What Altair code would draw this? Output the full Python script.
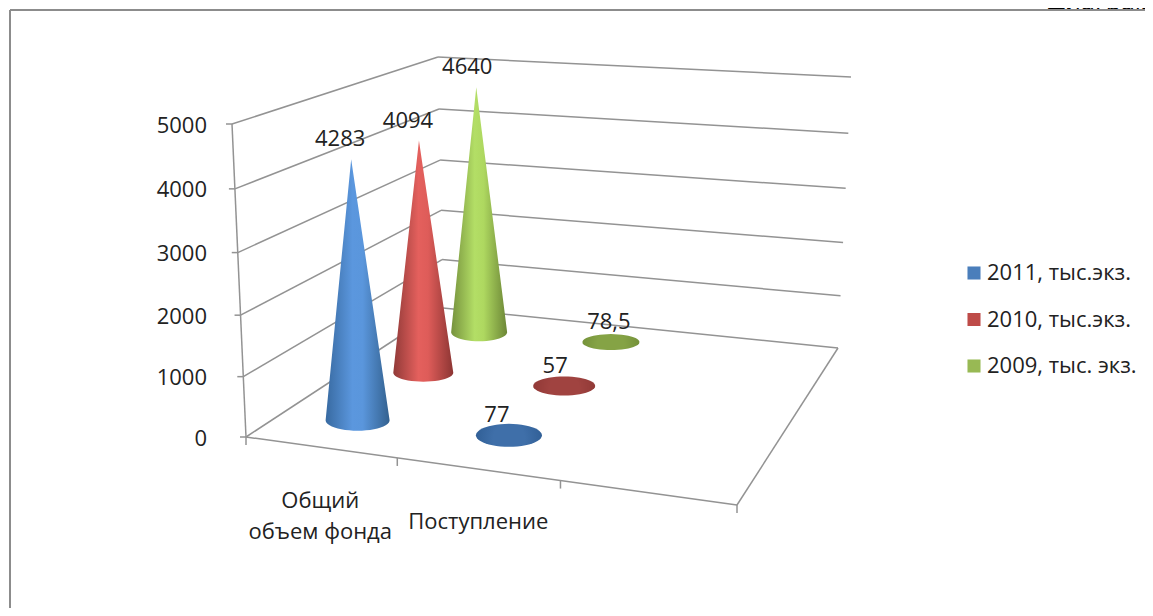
import numpy as np
import pandas as pd
import altair as alt

categories = ["Общий объем фонда", "Поступление"]
series = ["2011, тыс.экз.", "2010, тыс.экз.", "2009, тыс. экз."]
values_2011 = [4283, 77]
values_2010 = [4094, 57]
values_2009 = [4640, 78.5]
value_labels_2011 = ["4283", "77"]
value_labels_2010 = ["4094", "57"]
value_labels_2009 = ["4640", "78,5"]
y_ticks = [0, 1000, 2000, 3000, 4000, 5000]
series_values = [values_2011, values_2010, values_2009]
series_labels = [value_labels_2011, value_labels_2010, value_labels_2009]
legend_colors = ["#4a7ebb", "#be4b48", "#98b954"]

FONT = "Open Sans"
W, H = 1137, 600
GREY = "#939393"

# projection of the 3-D box onto the page
FL, FR, BR, BL = (246, 437), (737, 505), (838, 348), (443, 308)
LIFT = {"FL": (-14, -313), "BL": (-5, -251), "BR": (13, -271), "FR": (18, -338)}


def homography(pts):
    src = [(0, 0), (1, 0), (1, 1), (0, 1)]
    A, b = [], []
    for (u, v), (x, y) in zip(src, pts):
        A.append([u, v, 1, 0, 0, 0, -u * x, -v * x])
        A.append([0, 0, 0, u, v, 1, -u * y, -v * y])
        b += [x, y]
    return np.append(np.linalg.solve(np.array(A, float), np.array(b, float)), 1).reshape(3, 3)


HM = homography([FL, FR, BR, BL])


def project(u, v, h=0.0):
    p = HM @ np.array([u, v, 1.0])
    x, y = p[0] / p[2], p[1] / p[2]
    t = h / 5000
    t = t - 0.045 * t * (1 - t)  # perspective foreshortening of the height
    lx = (1 - u) * (1 - v) * LIFT["FL"][0] + u * (1 - v) * LIFT["FR"][0] + u * v * LIFT["BR"][0] + (1 - u) * v * LIFT["BL"][0]
    ly = (1 - u) * (1 - v) * LIFT["FL"][1] + u * (1 - v) * LIFT["FR"][1] + u * v * LIFT["BR"][1] + (1 - u) * v * LIFT["BL"][1]
    return x + t * lx, y + t * ly


X = alt.X("x:Q", scale=alt.Scale(domain=[8, 8 + W], nice=False, zero=False), axis=None)
Y = alt.Y("y:Q", scale=alt.Scale(domain=[8 + H, 8], nice=False, zero=False), axis=None)
X2 = alt.X2("x2:Q")
Y2 = alt.Y2("y2:Q")

# ---- frame, walls, ticks
segments = []


def seg(a, b, kind="grid"):
    segments.append({"id": len(segments), "x": a[0], "y": a[1], "kind": kind})
    segments.append({"id": len(segments) - 1, "x": b[0], "y": b[1], "kind": kind})


for t in y_ticks:
    seg(project(0, 0, t), project(0, 1, t))
    seg(project(0, 1, t), project(1, 1, t))
seg(project(0, 0, 0), project(1, 0, 0))
seg(project(1, 0, 0), project(1, 1, 0))
seg(project(0, 0, 0), project(0, 0, 5000))
for t in y_ticks:
    px, py = project(0, 0, t)
    seg((px - 6, py), (px, py))
for i in range(4):
    px, py = project(i / 3, 0, 0)
    seg((px, py), (px, py + 8))
seg((10, 10), (1153, 10), "frame")
seg((10, 10), (10, 616), "frame")
seg_df = pd.DataFrame(segments)

lines = alt.Chart(seg_df[seg_df.kind == "grid"]).mark_line(color=GREY, strokeWidth=1.5).encode(x=X, y=Y, detail="id:N")
frame = alt.Chart(seg_df[seg_df.kind == "frame"]).mark_line(color="#8c8c8c", strokeWidth=2).encode(x=X, y=Y, detail="id:N")

# ---- cones and disks
CONE_A, CONE_B = [32, 30, 28], [10.5, 9, 9]
DISK_A, DISK_B = [33, 31, 28.5], [11.5, 9.5, 8]
LABEL_DX = [[-11, -12], [-11, -9], [-9, -2]]
CONE_STOPS = [
    ["#386aa1", "#5b97de", "#5a96dc", "#33618f"],
    ["#913a38", "#e4605d", "#de5c59", "#8c3533"],
    ["#76923d", "#b3de66", "#aed860", "#6c8636"],
]
DISK_STOPS = [("#3f6fa9", "#2c5a90"), ("#a04340", "#8c3634"), ("#85a345", "#6f8c36")]
layers_marks = []
labels = []
for j in reversed(range(3)):
    for i in range(2):
        u, v = (i + 0.5) / 3, (j + 0.5) / 3
        val = series_values[j][i]
        cx, cy = project(u, v, 0)
        ax, ay = project(u, v, val)
        labels.append({"x": ax + LABEL_DX[j][i], "y": ay, "t": series_labels[j][i]})
        if val > 1000:
            a, b = CONE_A[j], CONE_B[j]
            ys = np.concatenate([np.linspace(ay, cy, 12), cy + b * np.sin(np.linspace(0.1, np.pi / 2, 12))])
            rows = []
            for yy in ys:
                if yy <= cy:
                    f = (yy - ay) / (cy - ay)
                    rows.append({"y": yy, "x": ax + f * (cx - ax - a), "x2": ax + f * (cx - ax + a)})
                else:
                    w = a * np.sqrt(max(0, 1 - ((yy - cy) / b) ** 2))
                    rows.append({"y": yy, "x": cx - w, "x2": cx + w})
            s = CONE_STOPS[j]
            fill = alt.LinearGradient(
                gradient="linear", x1=0, x2=1, y1=0, y2=0,
                stops=[alt.GradientStop(color=s[0], offset=0), alt.GradientStop(color=s[1], offset=0.42),
                       alt.GradientStop(color=s[2], offset=0.58), alt.GradientStop(color=s[3], offset=1)],
            )
        else:
            a, b = DISK_A[j], DISK_B[j]
            th = np.linspace(-np.pi / 2, np.pi / 2, 25)
            rows = [{"y": ay + b * np.sin(t), "x": ax - a * np.cos(t), "x2": ax + a * np.cos(t)} for t in th]
            s = DISK_STOPS[j]
            fill = alt.RadialGradient(
                gradient="radial", x1=0.5, y1=0.55, x2=0.5, y2=0.55, r1=0, r2=0.6,
                stops=[alt.GradientStop(color=s[0], offset=0.4), alt.GradientStop(color=s[1], offset=1)],
            )
        layers_marks.append(
            alt.Chart(pd.DataFrame(rows)).mark_area(orient="horizontal", color=fill).encode(x=X, x2=X2, y=Y)
        )

# ---- texts
TS = 22
label_chart = alt.Chart(pd.DataFrame(labels)).mark_text(
    font=FONT, fontSize=TS, color="#222222", dy=-20
).encode(x=X, y=Y, text="t:N")

tick_rows = []
for t in y_ticks:
    px, py = project(0, 0, t)
    tick_rows.append({"x": 207, "y": py + 1.5, "t": str(t)})
ytext = alt.Chart(pd.DataFrame(tick_rows)).mark_text(font=FONT, fontSize=TS, color="#222222", align="right").encode(x=X, y=Y, text="t:N")

c0 = project(0.5 / 3, 0, 0)
c1 = project(1.5 / 3, 0, 0)
cat_rows = [
    {"x": c0[0], "y": c0[1] + 54, "t": "Общий"},
    {"x": c0[0], "y": c0[1] + 85, "t": "объем фонда"},
    {"x": c1[0] + 1, "y": c1[1] + 53, "t": "Поступление"},
]
ctext = alt.Chart(pd.DataFrame(cat_rows)).mark_text(font=FONT, fontSize=TS, color="#222222").encode(x=X, y=Y, text="t:N")

# the page title is cut by the top edge of the picture: only its foot shows above the frame
cut_title = alt.Chart(pd.DataFrame([{"x": 1048, "y": 10, "t": "Диаграм"}])).mark_text(
    font=FONT, fontSize=25, color="#000000", align="left", baseline="alphabetic"
).encode(x=X, y=Y, text="t:N")
title_mask = alt.Chart(pd.DataFrame([{"x": 1040, "x2": 1153, "y": 10, "y2": 20}])).mark_rect(color="white").encode(
    x=X, x2=X2, y=Y, y2=Y2
)

legend_df = pd.DataFrame({"s": series, "x": [900] * 3, "y": [300] * 3})
legend_layer = alt.Chart(legend_df).mark_square(opacity=0, size=1).encode(
    x=X, y=Y,
    color=alt.Color(
        "s:N",
        scale=alt.Scale(domain=series, range=legend_colors),
        legend=alt.Legend(
            title=None, orient="none", legendX=955, legendY=254,
            symbolType="square", symbolSize=170, symbolOpacity=1, symbolStrokeWidth=0,
            labelFont=FONT, labelFontSize=TS, labelColor="#222222", rowPadding=24.5, labelOffset=2,
            labelLimit=220,
        ),
    ),
)

chart = alt.layer(
    cut_title, title_mask, frame, lines, *layers_marks, ytext, ctext, label_chart, legend_layer
).properties(
    width=W, height=H, padding=0, autosize=alt.AutoSizeParams(type="none"), background="white"
).configure_view(stroke=None)

chart.save("out.html", embed_options={"renderer": "svg", "actions": False})
